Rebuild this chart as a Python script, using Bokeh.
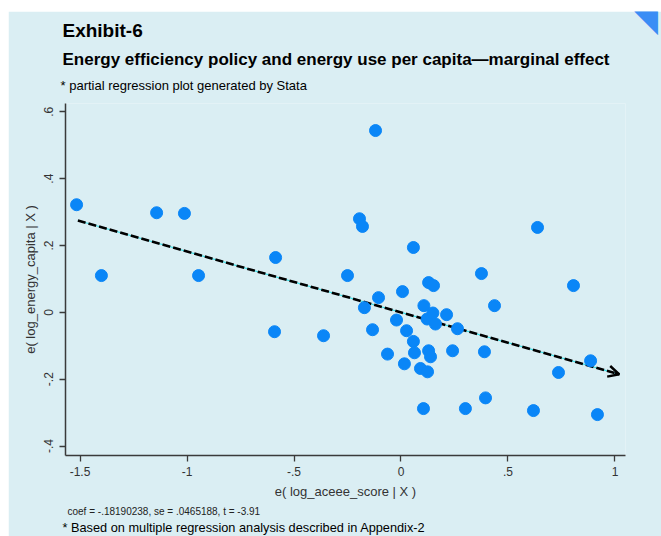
from bokeh.plotting import figure
from bokeh.models import (FixedTicker, Arrow, OpenHead, ColumnDataSource, Title, Spacer)
from bokeh.layouts import column, row
from bokeh.embed import file_html
from bokeh.resources import INLINE

# ---------------- data ----------------
coef = -0.18190238
x_resid = [-1.516, -1.400, -1.142, -1.012, -0.946, -0.586, -0.591, -0.362, -0.119, -0.194,
           -0.180, -0.250, -0.105, -0.171, -0.133, -0.063, -0.021, 0.007, 0.058, 0.026,
           0.058, 0.063, 0.016, 0.091, 0.124, 0.107, 0.129, 0.152, 0.122, 0.149,
           0.161, 0.129, 0.138, 0.213, 0.264, 0.241, 0.105, 0.301, 0.376, 0.390,
           0.395, 0.437, 0.638, 0.619, 0.736, 0.806, 0.886, 0.918]
y_resid = [0.322, 0.110, 0.298, 0.296, 0.110, 0.164, -0.058, -0.070, 0.544, 0.280,
           0.257, 0.110, 0.044, 0.014, -0.052, -0.125, -0.023, 0.062, 0.194, -0.055,
           -0.087, -0.121, -0.154, -0.168, -0.178, 0.020, 0.089, 0.080, -0.020, -0.002,
           -0.035, -0.115, -0.133, -0.007, -0.049, -0.115, -0.288, -0.288, 0.116, -0.118,
           -0.256, 0.020, 0.254, -0.294, -0.180, 0.080, -0.145, -0.306]
fit_x = [-1.51, 1.02]
fit_y = [coef * v for v in fit_x]

x_ticks = [-1.5, -1, -0.5, 0, 0.5, 1]
x_tick_labels = ["-1.5", "-1", "-.5", "0", ".5", "1"]
y_ticks = [-0.4, -0.2, 0, 0.2, 0.4, 0.6]
y_tick_labels = ["-.4", "-.2", "0", ".2", ".4", ".6"]

title_main = "Exhibit-6"
title_sub = "Energy efficiency policy and energy use per capita\u2014marginal effect"
note_top = "* partial regression plot generated by Stata"
note_coef = "coef = -.18190238, se = .0465188, t = -3.91"
note_bottom = "* Based on multiple  regression analysis described in Appendix-2"
x_label = "e( log_aceee_score | X )"
y_label = "e( log_energy_capita | X )"
corner_mark = "\u25E4"

# ---------------- layout ----------------
W, H = 653, 525
X0, X1 = -1.5678, 1.0491
Y0, Y1 = -0.4284, 0.6249
BG = "#DAEEF3"
FONT = "Liberation Sans"

p = figure(width=W, height=H, x_range=(X0, X1), y_range=(Y0, Y1),
           output_backend="svg", toolbar_location=None, title=None,
           min_border_left=57, min_border_right=36,
           min_border_top=92, min_border_bottom=81)
p.background_fill_color = BG
p.border_fill_color = BG
p.outline_line_color = None
p.grid.visible = False

for ax in (p.xaxis[0], p.yaxis[0]):
    ax.axis_line_color = "#3a3a3a"
    ax.axis_line_width = 1.5
    ax.major_tick_line_color = "#3a3a3a"
    ax.major_tick_line_width = 1.3
    ax.major_tick_in = 0
    ax.major_tick_out = 6
    ax.minor_tick_line_color = None
    ax.major_label_text_font = FONT
    ax.major_label_text_font_size = "12px"
    ax.major_label_text_color = "#333333"
    ax.axis_label_text_font = FONT
    ax.axis_label_text_font_size = "13px"
    ax.axis_label_text_font_style = "normal"
    ax.axis_label_text_color = "#333333"

p.xaxis.ticker = FixedTicker(ticks=x_ticks)
p.xaxis.major_label_overrides = dict(zip(x_ticks, x_tick_labels))
p.xaxis.axis_label = x_label
p.xaxis.major_label_standoff = 5
p.xaxis.axis_label_standoff = 5

p.yaxis.ticker = FixedTicker(ticks=y_ticks)
p.yaxis.major_label_overrides = dict(zip(y_ticks, y_tick_labels))
p.yaxis.major_label_orientation = "vertical"
p.yaxis.axis_label = y_label
p.yaxis.major_label_standoff = 6
p.yaxis.axis_label_standoff = 4

# regression line
p.line(fit_x, fit_y, line_color="#40E0E8", line_width=1.2)
p.line(fit_x, fit_y, line_color="black", line_width=2.6, line_dash="8 3")
p.add_layout(Arrow(end=OpenHead(size=11, line_width=2.5, line_color="black"),
                   x_start=fit_x[1] - 0.02, y_start=coef * (fit_x[1] - 0.02),
                   x_end=fit_x[1], y_end=fit_y[1], line_color="black", line_width=2.6))

src = ColumnDataSource(dict(x=x_resid, y=y_resid))
p.scatter("x", "y", source=src, size=12, fill_color="#0A86F7", line_color="#0A86F7")


def make_title(t, size, style="normal", standoff=0, offset=-3, color="black",
               valign="bottom", font=FONT, align="left"):
    return Title(text=t, align=align, offset=offset, standoff=standoff,
                 text_font=font, text_font_size=size, text_font_style=style,
                 text_color=color, vertical_align=valign)

# above: closest to the frame first
p.add_layout(make_title(" ", "1px", standoff=8), "above")
p.add_layout(make_title(note_top, "13px", standoff=-1, offset=-5), "above")
p.add_layout(make_title(title_sub, "17px", "bold", standoff=15), "above")
p.add_layout(make_title(title_main, "19px", "bold", standoff=0), "above")

# below the x axis
p.add_layout(make_title(note_coef, "10px", standoff=8, offset=2, color="#222222", valign="top"), "below")
p.add_layout(make_title(note_bottom, "12.75px", standoff=-6, offset=-3, valign="top"), "below")

# corner decoration (blue triangle, top right): spacer then the mark
p.add_layout(make_title(" ", "1px", standoff=13, offset=0), "right")
p.add_layout(make_title(corner_mark, "31px", standoff=-22, offset=-92, color="#3A8DF5",
                        valign="bottom", font="DejaVu Sans", align="left"), "right")

layout = column(Spacer(height=11), row(Spacer(width=8), p))
open("out.html", "w").write(file_html(layout, INLINE))
